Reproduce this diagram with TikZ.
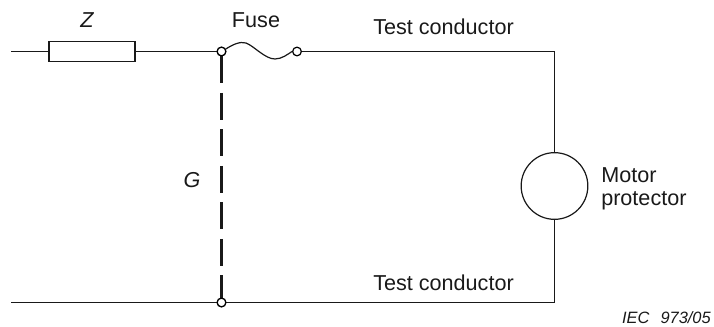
\documentclass[tikz,border=0pt]{standalone}
\usepackage{fontspec}
\setmainfont{Liberation Sans}
\begin{document}
\begin{tikzpicture}[x=0.75pt,y=-0.75pt,
  wire/.style={draw=black!90,line width=0.9pt},
  term/.style={circle,draw=black,line width=0.9pt,fill=white,inner sep=0pt,minimum size=6.5pt},
  lbl/.style={inner sep=0pt,font=\fontsize{16.2}{17.3}\selectfont,text=black!90},
  gline/.style={line width=2.3pt,draw=black!90,dash pattern=on 20.25pt off 7.1pt}]
\useasboundingbox (0,0) rectangle (714,327);
\coordinate (inT) at (11,51.5);
\coordinate (inB) at (11,302.5);
\coordinate (cornerT) at (554.5,51.5);
\coordinate (cornerB) at (554.5,302.5);
\node[draw=black!90,line width=0.9pt,minimum width=64.5pt,minimum height=14.5pt,inner sep=0pt] (Z) at (92,51.5) {};
\node[term] (a) at (221.5,51.5) {};
\node[term] (b) at (297,51.5) {};
\node[term] (c) at (221.5,302.5) {};
\node[circle,draw=black!90,line width=0.9pt,minimum size=50pt,inner sep=0pt] (M) at (554.5,186) {};
\draw[wire] (inT) -- (Z.west);
\draw[wire] (Z.east) -- (a);
\draw[wire] (a.30) .. controls (232,45) and (240,41) .. (246,43) .. controls (254,46) and (265,59) .. (275,59) .. controls (282,59) and (288,54) .. (b.west);
\draw[wire] (b) -- (cornerT) -- (M.north);
\draw[wire] (M.south) -- (cornerB) -- (inB);
\draw[gline] (a.south) -- (c);
\node[term] at (a) {};
\node[term] at (c) {};
\node[lbl,font=\fontsize{16.2}{19.5}\selectfont\itshape] (zl) at (87,20) {Z};
\node[lbl] (fl) at (256,20) {Fuse};
\node[lbl,anchor=west] (t1) at (373,27) {Test conductor};
\node[lbl,anchor=west] (t2) at (373,283) {Test conductor};
\node[lbl,font=\fontsize{16.2}{19.5}\selectfont\itshape] (gl) at (192,180) {G};
\node[lbl,anchor=west,align=left] (ml) at (601,189) {Motor\\protector};
\node[lbl,anchor=east,font=\fontsize{12.3}{14}\selectfont\itshape] (iec) at (711,318) {IEC\ \ \hspace{1.5pt}973/05};
\end{tikzpicture}
\end{document}
